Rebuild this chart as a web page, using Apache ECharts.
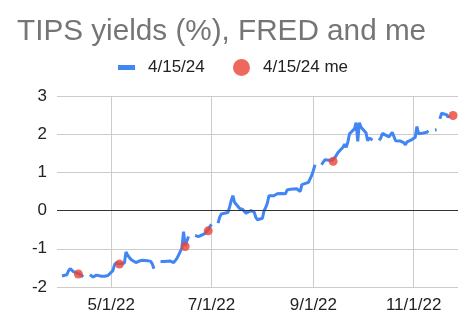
<!DOCTYPE html>
<html><head><meta charset="utf-8">
<script src="https://cdn.jsdelivr.net/npm/echarts@6/dist/echarts.min.js"></script>
<style>html,body{margin:0;padding:0;background:#fff}#c{width:474px;height:328px}</style>
</head><body><div id="c"></div>
<script>
const titleText = 'TIPS yields (%), FRED and me';
const seriesName = '4/15/24';
const meName = '4/15/24 me';

// FRED daily yields (null = market holiday / missing)
const dates = [
'2022-04-01','2022-04-04','2022-04-05','2022-04-06','2022-04-07','2022-04-08','2022-04-11','2022-04-12','2022-04-13','2022-04-14','2022-04-15',
'2022-04-18','2022-04-19','2022-04-20','2022-04-21','2022-04-22','2022-04-25','2022-04-26','2022-04-27','2022-04-28','2022-04-29',
'2022-05-02','2022-05-03','2022-05-04','2022-05-05','2022-05-06','2022-05-09','2022-05-10','2022-05-11','2022-05-12','2022-05-13',
'2022-05-16','2022-05-17','2022-05-18','2022-05-19','2022-05-20','2022-05-23','2022-05-24','2022-05-25','2022-05-26','2022-05-27','2022-05-30',
'2022-05-31','2022-06-01','2022-06-02','2022-06-03','2022-06-06','2022-06-07','2022-06-08','2022-06-09','2022-06-10',
'2022-06-13','2022-06-14','2022-06-15','2022-06-16','2022-06-17','2022-06-20',
'2022-06-21','2022-06-22','2022-06-23','2022-06-24','2022-06-27','2022-06-28','2022-06-29','2022-06-30','2022-07-01','2022-07-04',
'2022-07-05','2022-07-06','2022-07-07','2022-07-08','2022-07-11','2022-07-12','2022-07-13','2022-07-14','2022-07-15',
'2022-07-18','2022-07-19','2022-07-20','2022-07-21','2022-07-22','2022-07-25','2022-07-26','2022-07-27','2022-07-28','2022-07-29',
'2022-08-01','2022-08-02','2022-08-03','2022-08-04','2022-08-05','2022-08-08','2022-08-09','2022-08-10','2022-08-11','2022-08-12',
'2022-08-15','2022-08-16','2022-08-17','2022-08-18','2022-08-19','2022-08-22','2022-08-23','2022-08-24','2022-08-25','2022-08-26',
'2022-08-29','2022-08-30','2022-08-31','2022-09-01','2022-09-02','2022-09-05',
'2022-09-06','2022-09-07','2022-09-08','2022-09-09','2022-09-12','2022-09-13','2022-09-14','2022-09-15','2022-09-16',
'2022-09-19','2022-09-20','2022-09-21','2022-09-22','2022-09-23','2022-09-26','2022-09-27','2022-09-28','2022-09-29','2022-09-30',
'2022-10-03','2022-10-04','2022-10-05','2022-10-06','2022-10-07','2022-10-10',
'2022-10-11','2022-10-12','2022-10-13','2022-10-14','2022-10-17','2022-10-18','2022-10-19','2022-10-20','2022-10-21',
'2022-10-24','2022-10-25','2022-10-26','2022-10-27','2022-10-28','2022-10-31','2022-11-01','2022-11-02','2022-11-03','2022-11-04',
'2022-11-07','2022-11-08','2022-11-09','2022-11-10','2022-11-11',
'2022-11-14','2022-11-15','2022-11-16',
'2022-11-17','2022-11-18','2022-11-21','2022-11-22','2022-11-23','2022-11-24'
];
const yields = [
-1.71,-1.68,-1.58,-1.52,-1.56,-1.60,-1.65,-1.68,-1.70,-1.73,null,
-1.68,-1.70,-1.74,-1.71,-1.69,-1.72,-1.70,-1.72,-1.77,-1.70,
-1.57,-1.42,-1.36,-1.38,-1.40,-1.37,-1.08,-1.17,-1.22,-1.28,
-1.36,-1.40,-1.32,-1.28,-1.30,-1.31,-1.27,-1.33,-1.40,-1.52,null,
-1.33,-1.34,-1.33,-1.31,-1.32,-1.34,-1.36,-1.33,-1.25,
-0.98,-0.55,-0.92,-0.80,-0.68,null,
-0.65,-0.66,-0.68,-0.63,-0.60,-0.57,-0.50,-0.42,-0.36,null,
-0.33,-0.17,-0.09,-0.06,-0.05,0.09,0.26,0.39,0.22,
0.06,0.04,0.03,0.00,-0.07,0.00,0.02,-0.04,-0.18,-0.24,
-0.20,0.00,0.08,0.20,0.39,0.39,0.40,0.44,0.41,0.45,
0.44,0.54,0.57,0.56,0.52,0.57,0.54,0.50,0.68,0.72,
0.74,0.76,0.92,1.05,1.20,null,
1.20,1.27,1.33,1.31,1.31,1.30,1.38,1.43,1.52,
1.66,1.74,1.66,1.80,2.01,2.14,2.30,1.81,2.30,2.18,
2.04,1.83,1.90,1.86,1.85,null,
1.84,1.90,2.02,1.97,1.93,1.96,2.05,2.00,1.83,
1.82,1.81,1.78,1.72,1.80,1.86,1.89,1.92,2.20,2.01,
2.03,2.02,2.05,2.09,null,
2.11,2.12,null,
2.40,2.55,2.51,2.45,2.48,null
];

// my own computed yields
const meDates = ['2022-04-11','2022-05-06','2022-06-15','2022-06-29','2022-09-13','2022-11-25'];
const meYields = [-1.66,-1.40,-0.94,-0.53,1.29,2.49];

const xTickDates = ['2022-05-01','2022-07-01','2022-09-01','2022-11-01'];
const xRange = ['2022-03-29','2022-11-28'];
const yMin = -2, yMax = 3, yStep = 1;

function toTs(s){ const p = s.split('-').map(Number); return new Date(p[0], p[1]-1, p[2]).getTime(); }
function fmt(v){ const d = new Date(v); return (d.getMonth()+1)+'/'+d.getDate()+'/'+String(d.getFullYear()).slice(2); }

const lineData = dates.map((d,i)=>[toTs(d), yields[i]==null ? '-' : yields[i]]);
const meData = meDates.map((d,i)=>[toTs(d), meYields[i]]);
const xTicks = xTickDates.map(toTs);

const FONT = '"Liberation Sans", Arial, sans-serif';
const chart = echarts.init(document.getElementById('c'), null, {renderer:'canvas'});
chart.setOption({
  animation:false,
  backgroundColor:'#fff',
  title:{text:titleText, left:12, top:12, textStyle:{color:'#757575', fontSize:29.7, fontWeight:'normal', fontFamily:FONT}},
  legend:[
    {data:[{name:seriesName, icon:'rect'}], left:118, top:59, padding:0, itemWidth:17, itemHeight:5,
     textStyle:{color:'#222', fontSize:17, fontFamily:FONT, padding:[0,0,0,8]}},
    {data:[{name:meName, icon:'circle'}], left:233, top:59, padding:0, itemWidth:17, itemHeight:17,
     textStyle:{color:'#222', fontSize:17, fontFamily:FONT, padding:[0,0,0,8]}}
  ],
  grid:{left:57, right:16, top:96, bottom:41, containLabel:false},
  xAxis:{type:'value', min:toTs(xRange[0]), max:toTs(xRange[1]),
    axisLine:{show:false}, axisTick:{show:false, customValues:xTicks},
    axisLabel:{customValues:xTicks, formatter:fmt, color:'#222', fontSize:17, fontFamily:FONT, margin:10},
    splitLine:{show:true, lineStyle:{color:'#ccc', width:1}}},
  yAxis:{type:'value', min:yMin, max:yMax, interval:yStep,
    axisLine:{show:false}, axisTick:{show:false},
    axisLabel:{color:'#222', fontSize:17, fontFamily:FONT, margin:10},
    splitLine:{lineStyle:{color:'#ccc', width:1}}},
  series:[
    {name:seriesName, type:'line', data:lineData, showSymbol:false, connectNulls:false,
     lineStyle:{color:'#4285F4', width:3}, itemStyle:{color:'#4285F4'}, z:3,
     markLine:{silent:true, symbol:'none', label:{show:false}, lineStyle:{color:'#333', type:'solid', width:1},
       data:[{yAxis:0}], animation:false}},
    {name:meName, type:'scatter', data:meData, symbolSize:9, itemStyle:{color:'#EA4335'}, z:4}
  ]
});
</script></body></html>
